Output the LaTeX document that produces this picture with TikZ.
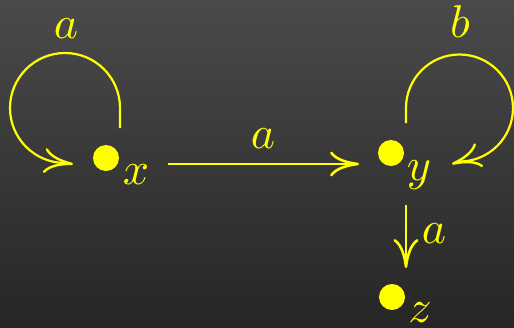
\documentclass[tikz,border=0pt]{standalone}
\usetikzlibrary{arrows.meta}
\definecolor{bgtop}{RGB}{74,74,74}
\definecolor{bgbot}{RGB}{38,38,38}
\definecolor{yel}{RGB}{255,255,0}
\begin{document}
\begin{tikzpicture}[x=1pt,y=-1pt,
  dot/.style={circle,fill=yel,inner sep=0pt,minimum size=26pt},
  lbl/.style={text=yel,inner sep=0pt,anchor=base,scale=4.6},
  edge/.style={draw=yel,line width=2.6pt,
    -{Computer Modern Rightarrow[length=29pt,width=25pt,line width=2.6pt]}},
  loopedge/.style={draw=yel,line width=2.2pt,
    -{Computer Modern Rightarrow[length=29pt,width=25pt,line width=2.4pt]}}]
\useasboundingbox (0,0) rectangle (514,327);
\shade[top color=bgtop,bottom color=bgbot] (0,0) rectangle (514,327);
% vertices
\node[dot] (x) at (106,158) {};
\node[dot] (y) at (391,153) {};
\node[dot] (z) at (392,297) {};
\node[lbl] (lx) at (136,184) {$x$};
\node[lbl] (ly) at (419,180) {$y$};
\node[lbl] (lz) at (420,322) {$z$};
% edge x -> y
\coordinate (xo) at (168,164);
\coordinate (yi) at (359,164);
\draw[edge] (xo) -- (yi);
\node[lbl] (la1) at (263,148) {$a$};
% edge y -> z
\coordinate (yo) at (406,205);
\coordinate (zi) at (406,268);
\draw[edge] (yo) -- (zi);
\node[lbl] (la2) at (434,243) {$a$};
% loop at x
\coordinate (xl0) at (120,128);
\coordinate (xl1) at (120,108);
\coordinate (xl2) at (73,164);
\draw[loopedge] (xl0) -- (xl1) arc[start angle=0,end angle=-270,radius=55] -- (xl2);
\node[lbl] (la3) at (66,38) {$a$};
% loop at y
\coordinate (yl0) at (406,123);
\coordinate (yl1) at (406,108);
\coordinate (yl2) at (452,164);
\draw[loopedge] (yl0) -- (yl1) arc[start angle=180,end angle=450,radius=53.5] -- (yl2);
\node[lbl] (lb) at (460,37) {$b$};
\end{tikzpicture}
\end{document}
